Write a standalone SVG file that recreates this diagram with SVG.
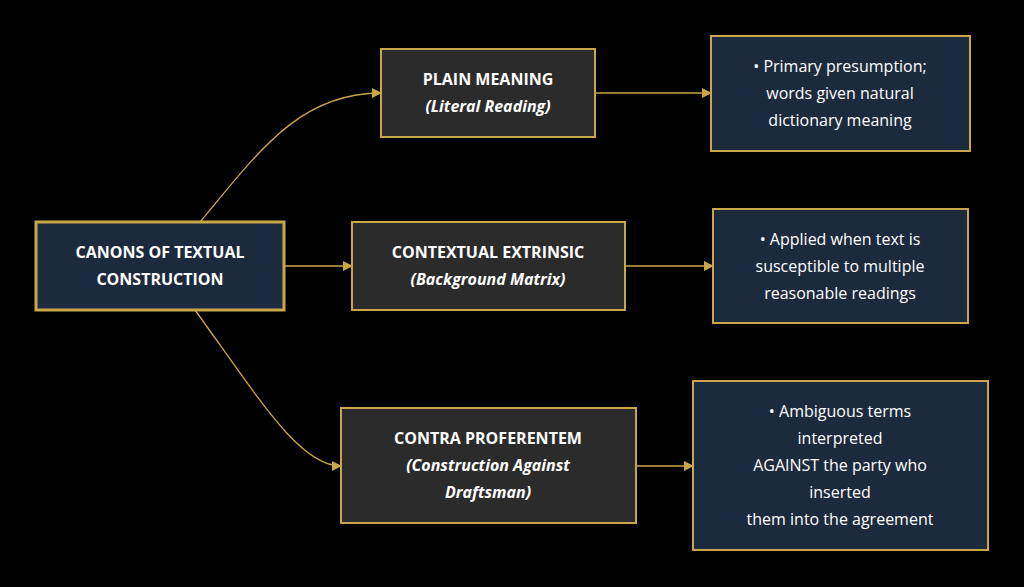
<svg xmlns="http://www.w3.org/2000/svg" width="1024" height="587" viewBox="0 0 1024 587">
<style>
text{font-family:"Open Sans","DejaVu Sans",sans-serif;fill:#ffffff;text-anchor:middle;font-size:16px}
.b{font-weight:bold}
.i{font-weight:bold;font-style:italic}
.mid{fill:#2b2b2b;stroke:#c9a64a;stroke-width:2}
.leaf{fill:#1c2a3d;stroke:#c9a64a;stroke-width:2}
.root{fill:#1c2a3d;stroke:#c9a64a;stroke-width:3}
.c{fill:none;stroke:#c9a64a;stroke-width:1.3}
</style>
<defs><marker id="a" markerWidth="10" markerHeight="10" refX="9" refY="5" orient="auto" markerUnits="userSpaceOnUse"><path d="M0,0L10,5L0,10z" fill="#c9a64a"/></marker></defs>
<rect width="1024" height="587" fill="#000"/>
<g id="connectors">
<path class="c" d="M200,222C260,150 300,93 381,93" marker-end="url(#a)"/>
<path class="c" d="M284,266H352" marker-end="url(#a)"/>
<path class="c" d="M195,310C260,400 300,466 341,466" marker-end="url(#a)"/>
<path class="c" d="M595,93H711" marker-end="url(#a)"/>
<path class="c" d="M625,266H713" marker-end="url(#a)"/>
<path class="c" d="M636,466H693" marker-end="url(#a)"/>
</g>
<g id="root"><rect class="root" x="36" y="222" width="248" height="88"/>
<text class="b" x="160" y="258">CANONS OF TEXTUAL</text><text class="b" x="160" y="285">CONSTRUCTION</text></g>
<g id="plain"><rect class="mid" x="381" y="49" width="214" height="88"/>
<text class="b" x="488" y="85">PLAIN MEANING</text><text class="i" x="488" y="112">(Literal Reading)</text></g>
<g id="contextual"><rect class="mid" x="352" y="222" width="273" height="88"/>
<text class="b" x="488" y="258">CONTEXTUAL EXTRINSIC</text><text class="i" x="488" y="285">(Background Matrix)</text></g>
<g id="contra"><rect class="mid" x="341" y="408" width="295" height="115"/>
<text class="b" x="488" y="444">CONTRA PROFERENTEM</text><text class="i" x="488" y="471">(Construction Against</text><text class="i" x="488" y="498">Draftsman)</text></g>
<g id="leaf1"><rect class="leaf" x="711" y="36" width="259" height="115"/>
<text x="840" y="72">• Primary presumption;</text><text x="840" y="99">words given natural</text><text x="840" y="126">dictionary meaning</text></g>
<g id="leaf2"><rect class="leaf" x="713" y="209" width="255" height="114"/>
<text x="840" y="245">• Applied when text is</text><text x="840" y="272">susceptible to multiple</text><text x="840" y="299">reasonable readings</text></g>
<g id="leaf3"><rect class="leaf" x="693" y="381" width="295" height="169"/>
<text x="840" y="417">• Ambiguous terms</text><text x="840" y="444">interpreted</text><text x="840" y="471">AGAINST the party who</text><text x="840" y="498">inserted</text><text x="840" y="525">them into the agreement</text></g>
</svg>
